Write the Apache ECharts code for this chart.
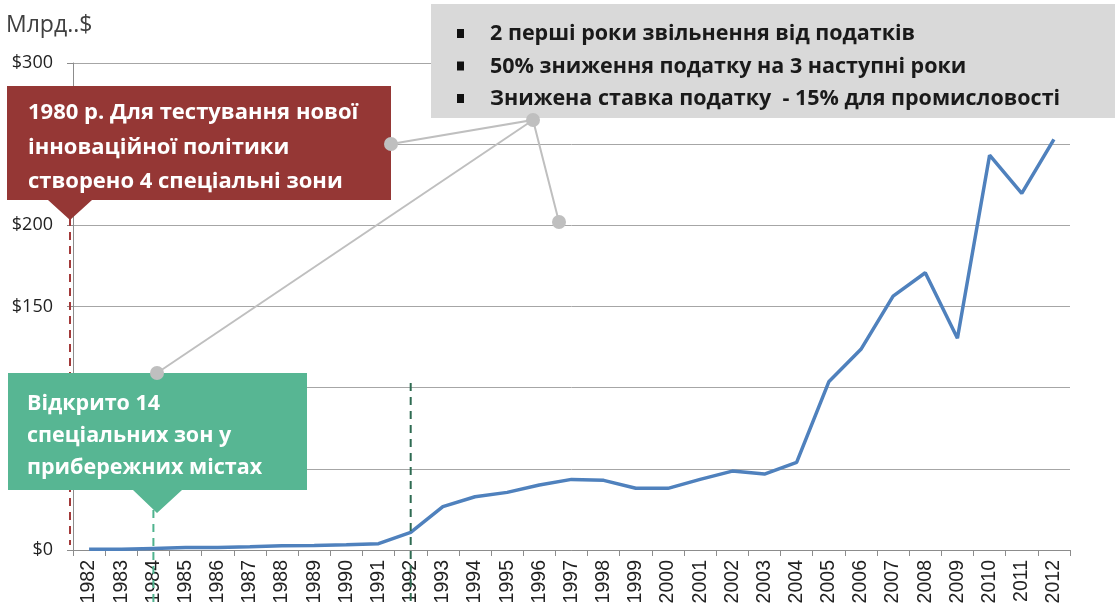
<!DOCTYPE html>
<html><head><meta charset="utf-8">
<script src="https://cdn.jsdelivr.net/npm/echarts@6/dist/echarts.min.js"></script>
<style>html,body{margin:0;padding:0;background:#fff}#c{width:1115px;height:605px}</style>
</head><body><div id="c"></div>
<script>
const years = ['1982','1983','1984','1985','1986','1987','1988','1989','1990','1991','1992','1993','1994','1995','1996','1997','1998','1999','2000','2001','2002','2003','2004','2005','2006','2007','2008','2009','2010','2011','2012'];
const fdi = [0.4,0.5,1,1.5,1.6,2,2.6,2.8,3.2,3.9,10.8,26.7,32.8,35.5,40,43.5,42.9,38,38,43.5,48.6,46.8,54,103.6,123.6,156.4,170.8,130.4,243.2,219.7,253];
const yTicks = ['$0','$50','$100','$150','$200','$250','$300'];
const unitLabel = 'Млрд..$';
const redText = ['1980 р. Для тестування нової','інноваційної політики','створено 4 спеціальні зони'];
const greenText = ['Відкрито 14','спеціальних зон у','прибережних містах'];
const grayText = ['2 перші роки звільнення від податків','50% зниження податку на 3 наступні роки','Знижена ставка податку  - 15% для промисловості'];

const chart = echarts.init(document.getElementById('c'));
const F = '"Open Sans","Noto Sans",sans-serif';
chart.setOption({
  animation:false,
  grid:{left:73,right:45,top:63,bottom:55,containLabel:false,outerBoundsMode:'none'},
  xAxis:{type:'category',data:years,boundaryGap:true,
    axisLine:{lineStyle:{color:'#8c8c8c'}},
    axisTick:{show:true,length:6,lineStyle:{color:'#8c8c8c'}},
    axisLabel:{rotate:90,fontSize:19.5,color:'#222',fontFamily:'"Liberation Sans",Arial,sans-serif',margin:10}},
  yAxis:{type:'value',min:0,max:300,interval:50,
    axisLine:{show:true,lineStyle:{color:'#8c8c8c'}},
    axisTick:{show:true,length:6,lineStyle:{color:'#8c8c8c'}},
    splitLine:{lineStyle:{color:'#a6a6a6'}},
    axisLabel:{fontSize:18,color:'#222',fontFamily:F,margin:20,formatter:(v)=>yTicks[v/50]}},
  series:[{type:'line',data:fdi,symbol:'none',lineStyle:{color:'#4f81bd',width:3.5},z:3}]
});

const x1984 = chart.convertToPixel({xAxisIndex:0},'1984');
const x1992 = chart.convertToPixel({xAxisIndex:0},'1992');
const gray = '#bfbfbf';
const els = [];
els.push({type:'text',x:6,y:25,style:{text:unitLabel,fontSize:23,fill:'#404040',fontFamily:F,verticalAlign:'middle'},z:50});
// dashed lines
els.push({type:'line',shape:{x1:70,y1:218,x2:70,y2:545},style:{stroke:'#a33a3a',lineWidth:2,lineDash:[8,6]},z:40});
els.push({type:'line',shape:{x1:x1984,y1:510,x2:x1984,y2:605},style:{stroke:'#4fb38e',lineWidth:2,lineDash:[8,6]},z:40});
els.push({type:'line',shape:{x1:x1992,y1:383,x2:x1992,y2:605},style:{stroke:'#2f6b52',lineWidth:2,lineDash:[8,6]},z:40});
// connectors
els.push({type:'polyline',shape:{points:[[391,144],[533,120],[559,222]]},style:{stroke:gray,lineWidth:2,fill:null},z:45});
els.push({type:'line',shape:{x1:533,y1:120,x2:157,y2:373},style:{stroke:gray,lineWidth:2},z:45});
// gray box
els.push({type:'rect',shape:{x:431,y:4,width:684,height:114},style:{fill:'#d9d9d9'},z:46});
grayText.forEach((t,i)=>{
  els.push({type:'rect',shape:{x:457,y:29+i*32.5,width:7,height:9},style:{fill:'#111'},z:47});
  els.push({type:'text',x:490,y:34+i*32.5,style:{text:t,fontSize:21.5,fontWeight:'bold',fill:'#1a1a1a',fontFamily:F,verticalAlign:'middle'},z:47});
});
// red box
els.push({type:'polygon',shape:{points:[[7,86],[391,86],[391,200],[92,200],[70,220],[48,200],[7,200]]},style:{fill:'#953735'},z:48});
redText.forEach((t,i)=>{
  els.push({type:'text',x:28,y:113+i*34.5,style:{text:t,fontSize:22,fontWeight:'bold',fill:'#fff',fontFamily:F,verticalAlign:'middle'},z:49});
});
// green box
els.push({type:'polygon',shape:{points:[[8,373],[307,373],[307,490],[182,490],[157,513],[133,490],[8,490]]},style:{fill:'#57b693'},z:48});
greenText.forEach((t,i)=>{
  els.push({type:'text',x:27,y:404+i*32,style:{text:t,fontSize:21.5,fontWeight:'bold',fill:'#fff',fontFamily:F,verticalAlign:'middle'},z:49});
});
// circles
[[391,144],[533,120],[559,222],[157,373]].forEach(p=>{
  els.push({type:'circle',shape:{cx:p[0],cy:p[1],r:7},style:{fill:gray},z:50});
});
chart.setOption({graphic:{elements:els}});
</script></body></html>
